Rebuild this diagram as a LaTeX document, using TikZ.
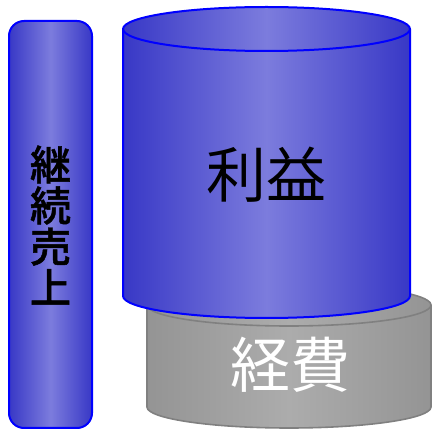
\documentclass[tikz,border=0pt]{standalone}
\usepackage{fontspec}
\setmainfont{Noto Sans CJK JP}
\newfontfamily\cjkmed[FakeBold=1.2]{Noto Sans CJK JP Medium}
\begin{document}
\begin{tikzpicture}[x=1pt,y=1pt,
  bluefill/.style={left color=bdark,right color=bdark,middle color=blight},
  grayfill/.style={left color=gdark,right color=gdark,middle color=glight},
  blueline/.style={draw=blue,line width=2pt},
  grayline/.style={draw=gline,line width=1.6pt},
  lbl/.style={inner sep=0pt,align=center}]
\definecolor{bdark}{RGB}{56,56,198}
\definecolor{blight}{RGB}{124,124,221}
\definecolor{gdark}{RGB}{148,148,148}
\definecolor{glight}{RGB}{172,172,172}
\definecolor{gline}{RGB}{128,128,128}
\useasboundingbox (0,0) rectangle (432,429);
% gray cylinder
\shade[grayfill] (147,124) -- (147,22) arc[start angle=180,end angle=360,x radius=142,y radius=21] -- (431,124) arc[start angle=0,end angle=180,x radius=142,y radius=21] -- cycle;
\draw[grayline] (147,124) -- (147,22) arc[start angle=180,end angle=360,x radius=142,y radius=21] -- (431,124) arc[start angle=0,end angle=180,x radius=142,y radius=21] -- cycle;
\draw[grayline] (147,124) arc[start angle=180,end angle=360,x radius=142,y radius=21];
% blue cylinder
\shade[bluefill] (123,400) -- (123,133) arc[start angle=180,end angle=360,x radius=143.5,y radius=22] -- (410,400) arc[start angle=0,end angle=180,x radius=143.5,y radius=22] -- cycle;
\draw[blueline] (123,400) -- (123,133) arc[start angle=180,end angle=360,x radius=143.5,y radius=22] -- (410,400) arc[start angle=0,end angle=180,x radius=143.5,y radius=22] -- cycle;
\draw[blueline] (123,400) arc[start angle=180,end angle=360,x radius=143.5,y radius=22];
% left bar
\shade[bluefill,rounded corners=15pt] (9,1) rectangle (92,408);
\draw[blueline,rounded corners=15pt] (9,1) rectangle (92,408);
% labels
\node[lbl,font=\cjkmed\fontsize{41}{41}\selectfont] (keizoku) at (50.5,204) {継\\続\\売\\上};
\node[lbl,font=\fontsize{60}{60}\selectfont] (rieki) at (266.5,254) {利益};
\node[lbl,font=\fontsize{60}{60}\selectfont,text=white] (keihi) at (290,64) {経費};
\end{tikzpicture}
\end{document}
